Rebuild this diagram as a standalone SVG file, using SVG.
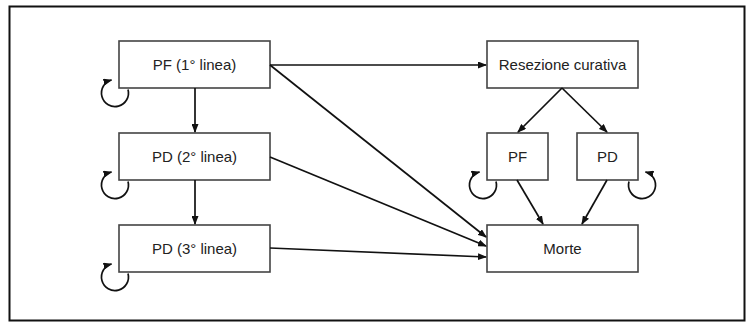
<svg xmlns="http://www.w3.org/2000/svg" width="747" height="322" viewBox="0 0 747 322">
  <style>
    .box { fill: #ffffff; stroke: #444444; stroke-width: 1.6; }
    .lbl { font-family: "Liberation Sans", Arial, sans-serif; font-size: 15px; fill: #222222; text-anchor: middle; }
    .edge { fill: none; stroke: #111111; stroke-width: 1.7; marker-end: url(#arrow); }
    .loop { fill: none; stroke: #111111; stroke-width: 1.7; marker-end: url(#arrow); }
  </style>
  <defs>
    <marker id="arrow" markerUnits="userSpaceOnUse" markerWidth="9" markerHeight="7" refX="8" refY="3.5" orient="auto">
      <path d="M0,0 L9,3.5 L0,7 z" fill="#111111"/>
    </marker>
  </defs>

  <!-- frame -->
  <rect x="9.5" y="6.5" width="735" height="314" fill="#ffffff" stroke="#111111" stroke-width="2"/>

  <!-- left column -->
  <g id="pf1">
    <rect class="box" x="119" y="41" width="151" height="47"/>
    <text class="lbl" x="194.5" y="70">PF (1° linea)</text>
  </g>
  <g id="pd2">
    <rect class="box" x="119" y="133" width="151" height="47"/>
    <text class="lbl" x="194.5" y="162">PD (2° linea)</text>
  </g>
  <g id="pd3">
    <rect class="box" x="119" y="225" width="151" height="47"/>
    <text class="lbl" x="194.5" y="254">PD (3° linea)</text>
  </g>

  <!-- right column -->
  <g id="resezione">
    <rect class="box" x="487" y="41" width="151" height="47"/>
    <text class="lbl" x="562.5" y="70">Resezione curativa</text>
  </g>
  <g id="pf">
    <rect class="box" x="487" y="133" width="61" height="47"/>
    <text class="lbl" x="517.5" y="162">PF</text>
  </g>
  <g id="pd">
    <rect class="box" x="577" y="133" width="61" height="47"/>
    <text class="lbl" x="607.5" y="162">PD</text>
  </g>
  <g id="morte">
    <rect class="box" x="487" y="225" width="151" height="47"/>
    <text class="lbl" x="562.5" y="254">Morte</text>
  </g>

  <!-- connectors -->
  <g id="connectors">
    <line class="edge" x1="195" y1="88" x2="195" y2="132"/>
    <line class="edge" x1="195" y1="180" x2="195" y2="224"/>
    <line class="edge" x1="270" y1="65" x2="486" y2="65"/>
    <line class="edge" x1="270" y1="65" x2="486" y2="237"/>
    <line class="edge" x1="270" y1="157" x2="486" y2="246"/>
    <line class="edge" x1="270" y1="248" x2="486" y2="257"/>
    <line class="edge" x1="562" y1="88" x2="518" y2="132"/>
    <line class="edge" x1="562" y1="88" x2="607" y2="132"/>
    <line class="edge" x1="517" y1="180" x2="543" y2="224"/>
    <line class="edge" x1="607" y1="180" x2="582" y2="224"/>

    <!-- self loops -->
    <path class="loop" d="M128.0,89.5 A13.5,13.5 0 1 1 111.5,80.0"/>
    <path class="loop" d="M128.0,181.5 A13.5,13.5 0 1 1 111.5,172.0"/>
    <path class="loop" d="M128.0,273.5 A13.5,13.5 0 1 1 111.5,264.0"/>
    <path class="loop" d="M496.0,181.5 A13.5,13.5 0 1 1 479.5,172.0"/>
    <path class="loop" d="M629.0,181.5 A13.5,13.5 0 1 0 645.5,172.0"/>
  </g>
</svg>
